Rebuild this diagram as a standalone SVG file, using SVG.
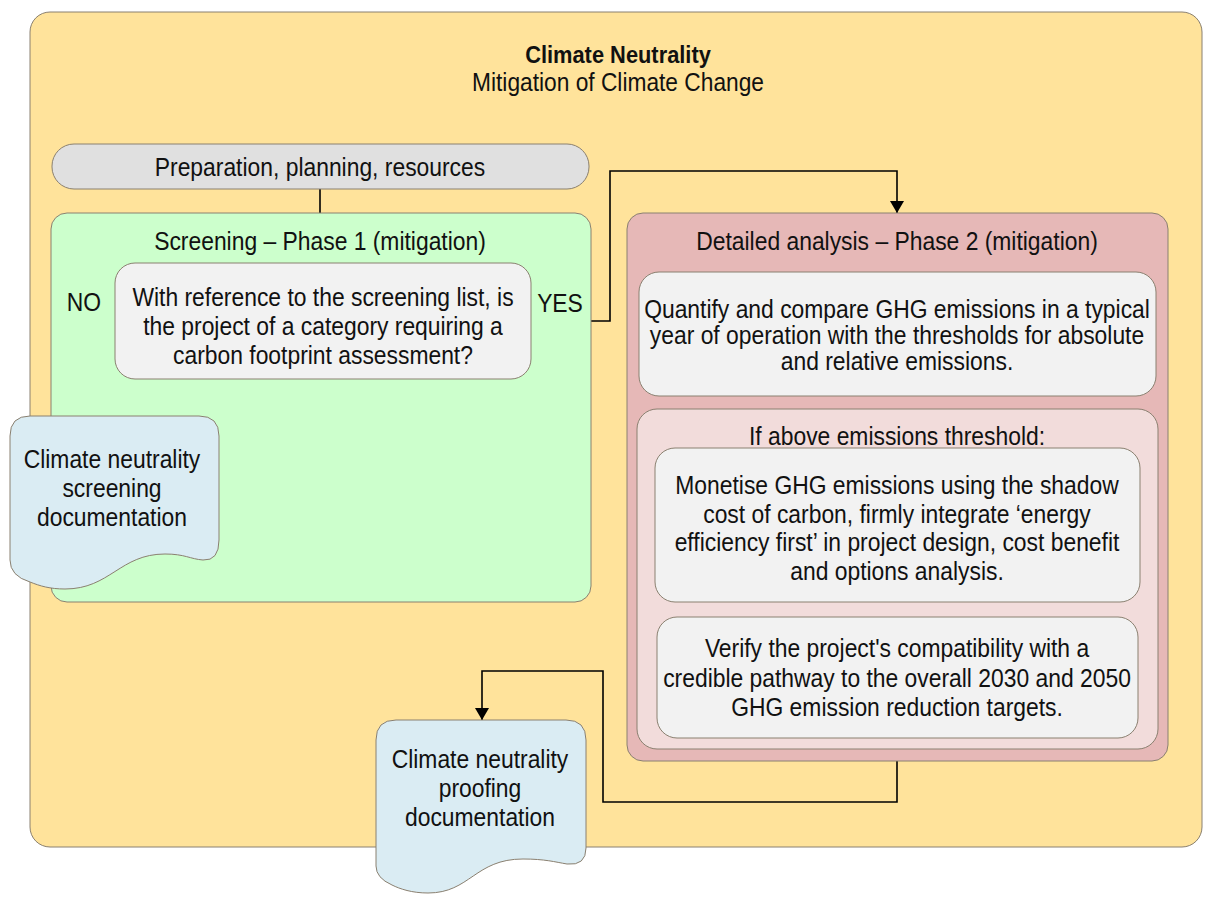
<svg xmlns="http://www.w3.org/2000/svg" width="1212" height="903" viewBox="0 0 1212 903">
<style>
text{font-family:"Liberation Sans","Arial",sans-serif;font-size:26px;fill:#111;text-anchor:middle}
.b{font-weight:bold;font-size:23px}
.s{font-size:25px}
.box{stroke:#8a8070;stroke-width:1}
.conn{fill:none;stroke:#000;stroke-width:1.6}
</style>
<defs>
<marker id="ah" markerWidth="12" markerHeight="16" refX="12" refY="7" orient="auto" markerUnits="userSpaceOnUse" viewBox="0 0 12 14"><path d="M0,0 L12,7 L0,14 Z" fill="#000"/></marker>
</defs>
<g id="frame">
<rect class="box" x="30" y="12" width="1172" height="835" rx="20" fill="#FFE39B"/>
<text class="b" transform="translate(618 0) scale(.95 1)" y="63">Climate Neutrality</text>
<text class="s" transform="translate(618 0) scale(.91 1)" y="91">Mitigation of Climate Change</text>
</g>
<g id="connectors">
<path class="conn" d="M320,189 V213"/>
<path class="conn" d="M115,321 H70 V402 H115 V416" marker-end="url(#ah)"/>
<path class="conn" d="M531,321 H610 V171 H897 V213" marker-end="url(#ah)"/>
<path class="conn" d="M897,396 V409"/>
<path class="conn" d="M897,602 V617"/>
<path class="conn" d="M897,761 V802 H603 V671 H482 V720" marker-end="url(#ah)"/>
</g>
<g id="prep">
<rect class="box" x="52" y="144" width="537" height="45" rx="22" fill="#E0E0E0"/>
<text transform="translate(320 0) scale(.88 1)" y="176">Preparation, planning, resources</text>
</g>
<g id="phase1">
<rect class="box" x="51" y="213" width="540" height="389" rx="16" fill="#CCFFCC"/>
<text transform="translate(320 0) scale(.88 1)" y="250">Screening – Phase 1 (mitigation)</text>
</g>
<g id="question">
<rect class="box" x="115" y="263" width="416" height="116" rx="20" fill="#F2F2F2"/>
<text transform="translate(323 0) scale(.88 1)" y="306">With reference to the screening list, is</text>
<text transform="translate(323 0) scale(.88 1)" y="335">the project of a category requiring a</text>
<text transform="translate(323 0) scale(.88 1)" y="364">carbon footprint assessment?</text>
</g>
<g id="label-no"><text transform="translate(84 0) scale(.88 1)" y="311">NO</text></g>
<g id="label-yes"><text transform="translate(560 0) scale(.88 1)" y="312">YES</text></g>
<g id="screening-doc">
<path class="box" d="M10,436 Q10,416 30,416 H199 Q219,416 219,436 V540 Q219,561 203,560 C190,559 185,554 165,554 C120,554 110,589 65,589 C50,589 40,586 30,582 Q10,576 10,560 Z" fill="#DAECF3"/>
<text transform="translate(112 0) scale(.88 1)" y="468">Climate neutrality</text>
<text transform="translate(112 0) scale(.88 1)" y="497">screening</text>
<text transform="translate(112 0) scale(.88 1)" y="526">documentation</text>
</g>
<g id="phase2">
<rect class="box" x="627" y="213" width="541" height="548" rx="16" fill="#E6B8B7"/>
<text transform="translate(897 0) scale(.88 1)" y="250">Detailed analysis – Phase 2 (mitigation)</text>
</g>
<g id="quantify">
<rect class="box" x="639" y="272" width="517" height="124" rx="20" fill="#F2F2F2"/>
<text transform="translate(897 0) scale(.88 1)" y="318">Quantify and compare GHG emissions in a typical</text>
<text transform="translate(897 0) scale(.88 1)" y="344">year of operation with the thresholds for absolute</text>
<text transform="translate(897 0) scale(.88 1)" y="370">and relative emissions.</text>
</g>
<g id="threshold">
<rect class="box" x="637" y="409" width="521" height="340" rx="20" fill="#F2DCDB"/>
<text transform="translate(897 0) scale(.88 1)" y="445">If above emissions threshold:</text>
</g>
<g id="monetise">
<rect class="box" x="655" y="448" width="485" height="154" rx="20" fill="#F2F2F2"/>
<text transform="translate(897 0) scale(.88 1)" y="494">Monetise GHG emissions using the shadow</text>
<text transform="translate(897 0) scale(.88 1)" y="523">cost of carbon, firmly integrate ‘energy</text>
<text transform="translate(897 0) scale(.88 1)" y="551">efficiency first’ in project design, cost benefit</text>
<text transform="translate(897 0) scale(.88 1)" y="580">and options analysis.</text>
</g>
<g id="verify">
<rect class="box" x="657" y="617" width="481" height="121" rx="20" fill="#F2F2F2"/>
<text transform="translate(897 0) scale(.88 1)" y="657">Verify the project's compatibility with a</text>
<text transform="translate(897 0) scale(.88 1)" y="687">credible pathway to the overall 2030 and 2050</text>
<text transform="translate(897 0) scale(.88 1)" y="716">GHG emission reduction targets.</text>
</g>
<g id="proofing-doc">
<path class="box" d="M376,740 Q376,720 396,720 H566 Q586,720 586,740 V848 Q586,866 567,864 C555,862 545,859 523,859 C475,859 470,893 428,893 C412,893 400,889 392,885 Q376,878 376,866 Z" fill="#DAECF3"/>
<text transform="translate(480 0) scale(.88 1)" y="768">Climate neutrality</text>
<text transform="translate(480 0) scale(.88 1)" y="797">proofing</text>
<text transform="translate(480 0) scale(.88 1)" y="826">documentation</text>
</g>
</svg>
